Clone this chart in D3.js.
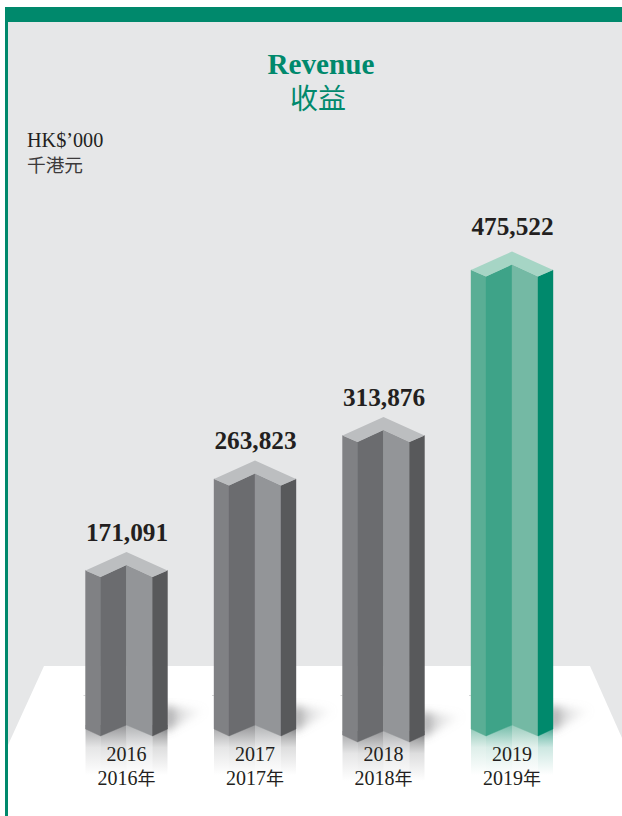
<!DOCTYPE html>
<html>
<head>
<meta charset="utf-8">
<script src="https://cdn.jsdelivr.net/npm/d3@7"></script>
<style>
  html, body { margin: 0; padding: 0; background: #fff; }
  svg { display: block; }
  text { font-family: "Liberation Serif", serif; fill: #231f20; }
  .cjk { font-family: "Noto Sans CJK TC", "Noto Sans CJK SC", sans-serif; }
</style>
</head>
<body>
<svg id="chart" width="622" height="816"></svg>
<script>
// Annual revenue, HK$'000
const years = [2016, 2017, 2018, 2019];
const revenue = [171091, 263823, 313876, 475522];
const valueLabels = ["171,091", "263,823", "313,876", "475,522"];
const yearLabels = ["2016", "2017", "2018", "2019"];
const yearLabelsZh = ["2016年", "2017年", "2018年", "2019年"];

// Face colours of a column: left, centre-left, centre-right, right, cap
const greyFaces = ["#808184", "#6b6c6f", "#939598", "#58595b", "#bcbec0"];
const greenFaces = ["#5aae95", "#3ea388", "#74b9a4", "#00896c", "#a6d5c5"];
const accent = "#00896c";

const svg = d3.select("#chart");
const defs = svg.append("defs");

// Column geometry
const outer = 41, inner = 26;          // half widths of the prism
const capSide = 18.5, capFront = 25, capNotch = 13; // cap offsets below the rear apex
const baseLine = 736;                  // lowest front corner of a standing column
const baseSide = -7, baseNotch = -11;  // foot offsets relative to that corner
const droppedYear = 2018, dropBy = 6;  // this column stands slightly nearer the viewer

const x = d3.scalePoint().domain(years).range([126.5, 512]);
const y = d3.scaleLinear().domain([0, d3.max(revenue)]).range([720.8, 251.5]);

// Page frame and floor
svg.append("rect").attr("x", 5).attr("y", 7).attr("width", 617).attr("height", 809).attr("fill", accent);
svg.append("rect").attr("x", 8).attr("y", 22).attr("width", 614).attr("height", 794).attr("fill", "#e6e7e8");
const floorLine = d3.line();
svg.append("path")
  .attr("d", floorLine([[44, 666], [590, 666], [622, 738], [622, 816], [8, 816], [8, 745]]) + "Z")
  .attr("fill", "#fff");

// Soft cast shadow and fading reflection helpers
defs.append("filter").attr("id", "soft")
  .attr("x", "-30%").attr("y", "-30%").attr("width", "160%").attr("height", "160%")
  .append("feGaussianBlur").attr("stdDeviation", 4);
const shadowFill = defs.append("linearGradient").attr("id", "castShadow");
shadowFill.append("stop").attr("offset", 0).attr("stop-color", "#58585a").attr("stop-opacity", 0.65);
shadowFill.append("stop").attr("offset", 0.35).attr("stop-color", "#8a8a8c").attr("stop-opacity", 0.28);
shadowFill.append("stop").attr("offset", 1).attr("stop-color", "#bbb").attr("stop-opacity", 0);

function mirrorGradient(id, colour) {
  const g = defs.append("linearGradient").attr("id", id)
    .attr("x1", 0).attr("y1", 0).attr("x2", 0).attr("y2", 1);
  g.append("stop").attr("offset", 0).attr("stop-color", colour).attr("stop-opacity", 0.72);
  g.append("stop").attr("offset", 0.45).attr("stop-color", colour).attr("stop-opacity", 0.2);
  g.append("stop").attr("offset", 1).attr("stop-color", colour).attr("stop-opacity", 0);
}

const line = d3.line();

years.forEach((year, i) => {
  const cx = x(year);
  const faces = year === 2019 ? greenFaces : greyFaces;
  const drop = year === droppedYear ? dropBy : 0;
  const apex = y(revenue[i]) + drop;
  const foot = baseLine + drop;

  const xs = [cx - outer, cx - inner, cx, cx + inner, cx + outer];
  const topY = [apex + capSide, apex + capFront, apex + capNotch, apex + capFront, apex + capSide];
  const footY = [foot + baseSide, foot, foot + baseNotch, foot, foot + baseSide];
  const group = svg.append("g").attr("class", "column");

  // Small floor mark beside the column
  group.append("line")
    .attr("x1", xs[0] - 2).attr("x2", xs[0]).attr("y1", 695.5).attr("y2", 695.5)
    .attr("stroke", "#d6d7d8").attr("stroke-width", 1);

  // Cast shadow to the right of the column
  group.append("path")
    .attr("d", line([[xs[4] - 3, foot - 30], [xs[4] + 40, foot - 26], [xs[4] - 3, foot - 4]]) + "Z")
    .attr("fill", "url(#castShadow)")
    .attr("filter", "url(#soft)");

  // Reflection on the floor, one strip per face
  for (let f = 0; f < 4; f++) {
    const id = `mirror-${year}-${f}`;
    mirrorGradient(id, faces[f]);
    group.append("rect")
      .attr("x", xs[f]).attr("width", xs[f + 1] - xs[f])
      .attr("y", foot - 11).attr("height", 50)
      .attr("fill", `url(#${id})`);
  }

  // Four upright faces; a hairline stroke closes the seams between them
  for (let f = 0; f < 4; f++) {
    group.append("path")
      .attr("d", line([[xs[f], topY[f]], [xs[f + 1], topY[f + 1]], [xs[f + 1], footY[f + 1]], [xs[f], footY[f]]]) + "Z")
      .attr("fill", faces[f])
      .attr("stroke", faces[f]).attr("stroke-width", 0.4);
  }

  // Cap
  group.append("path")
    .attr("d", line([[cx, apex], [xs[4], topY[4]], [xs[3], topY[3]], [xs[2], topY[2]], [xs[1], topY[1]], [xs[0], topY[0]]]) + "Z")
    .attr("fill", faces[4]);

  // Value above the column
  group.append("text")
    .attr("x", cx + 0.5).attr("y", apex - (year === 2019 ? 17 : 11))
    .attr("text-anchor", "middle")
    .attr("font-size", 25.3).attr("font-weight", 700)
    .text(valueLabels[i]);

  // Year labels
  group.append("text")
    .attr("x", cx).attr("y", 761)
    .attr("text-anchor", "middle").attr("font-size", 20)
    .text(yearLabels[i]);
  const zh = yearLabelsZh[i];
  const lower = group.append("text")
    .attr("x", cx).attr("y", 785)
    .attr("text-anchor", "middle").attr("font-size", 20);
  lower.append("tspan").text(zh.slice(0, 4));
  lower.append("tspan").attr("class", "cjk").attr("font-size", 18).text(zh.slice(4));
});

// Title and unit
svg.append("text").attr("x", 321).attr("y", 74)
  .attr("text-anchor", "middle").attr("font-size", 29.2).attr("font-weight", 700)
  .style("fill", accent).text("Revenue");
svg.append("text").attr("class", "cjk").attr("x", 318).attr("y", 109)
  .attr("text-anchor", "middle").attr("font-size", 28)
  .style("fill", accent).text("收益");
svg.append("text").attr("x", 27).attr("y", 147).attr("font-size", 20.2).text("HK$’000");
svg.append("text").attr("class", "cjk").attr("x", 27).attr("y", 172)
  .attr("font-size", 18.7).style("fill", "#3c3a3b").text("千港元");
</script>
</body>
</html>
